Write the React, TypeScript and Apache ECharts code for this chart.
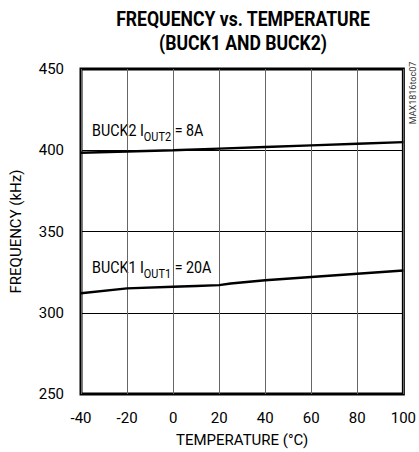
import React, { useEffect, useRef } from "react";
import * as echarts from "echarts";

const temperatures = [-40, -20, 0, 10, 20, 25, 40, 60, 80, 100];
const buck1Freq = [312, 315, 316, 316.5, 317, 318, 320, 322, 324, 326];
const buck2Temps = [-40, -20, 0, 20, 40, 60, 80, 100];
const buck2Freq = [398.5, 399.3, 400, 401, 402, 403, 404, 405];
const xTicks = [-40, -20, 0, 20, 40, 60, 80, 100];
const yTicks = [250, 300, 350, 400, 450];

const FONT = 'Roboto, "Liberation Sans", sans-serif';
const NARROW = 0.84;

export default function App() {
  const ref = useRef<HTMLDivElement>(null);
  useEffect(() => {
    if (!ref.current) return;
    const chart = echarts.init(ref.current, undefined, { renderer: "svg" });
    const label = (main: string, sub: string, rest: string, x: number, y: number) => ({
      type: "text",
      x,
      y,
      scaleX: NARROW,
      style: {
        text: `{a|${main}}{s|${sub}}{a|${rest}}`,
        rich: {
          a: { fontFamily: FONT, fontSize: 17, fill: "#000", lineHeight: 18, verticalAlign: "bottom" },
          s: { fontFamily: FONT, fontSize: 13, fill: "#000", lineHeight: 18, verticalAlign: "bottom", padding: [0, 0, -4, 0] },
        },
      },
    });
    chart.setOption({
      animation: false,
      grid: { left: 81, top: 69, width: 325, height: 325, show: true, borderColor: "#000", borderWidth: 3, backgroundColor: "transparent" },
      xAxis: {
        type: "value",
        min: xTicks[0],
        max: xTicks[xTicks.length - 1],
        interval: 20,
        name: "TEMPERATURE (°C)",
        nameLocation: "middle",
        nameGap: 38,
        nameTextStyle: { fontFamily: FONT, fontSize: 15, color: "#000" },
        axisLine: { show: false },
        axisTick: { show: false },
        axisLabel: { fontFamily: FONT, fontSize: 15, color: "#000", margin: 16 },
        splitLine: { show: true, lineStyle: { color: "#666", width: 1 } },
      },
      yAxis: {
        type: "value",
        min: yTicks[0],
        max: yTicks[yTicks.length - 1],
        interval: 50,
        name: "FREQUENCY (kHz)",
        nameLocation: "middle",
        nameGap: 58,
        nameTextStyle: { fontFamily: FONT, fontSize: 15, color: "#000" },
        axisLine: { show: false },
        axisTick: { show: false },
        axisLabel: { fontFamily: FONT, fontSize: 15, color: "#000", margin: 17 },
        splitLine: { show: true, lineStyle: { color: "#000", width: 1 } },
      },
      series: [
        {
          type: "line",
          data: temperatures.map((t, i) => [t, buck1Freq[i]]),
          showSymbol: false,
          lineStyle: { color: "#000", width: 2.5 },
        },
        {
          type: "line",
          data: buck2Temps.map((t, i) => [t, buck2Freq[i]]),
          showSymbol: false,
          lineStyle: { color: "#000", width: 2.5 },
        },
      ],
      graphic: [
        {
          type: "text",
          x: 243,
          y: 8,
          scaleX: 0.88,
          style: {
            text: "FREQUENCY vs. TEMPERATURE\n(BUCK1 AND BUCK2)",
            fontFamily: FONT,
            fontWeight: "bold",
            fontSize: 20,
            lineHeight: 24,
            fill: "#000",
            align: "center",
            verticalAlign: "top",
          },
        },
        label("BUCK2 I", "OUT2", " = 8A", 92, 121),
        label("BUCK1 I", "OUT1", " = 20A", 92, 258),
        {
          type: "text",
          x: 413,
          y: 93,
          rotation: Math.PI / 2,
          style: { text: "MAX1816toc07", fontFamily: FONT, fontSize: 9, fill: "#333", align: "center", verticalAlign: "middle" },
        },
      ],
    });
    return () => chart.dispose();
  }, []);
  return <div ref={ref} style={{ position: "absolute", left: 0, top: 0, width: 419, height: 452, background: "#fff" }} />;
}
